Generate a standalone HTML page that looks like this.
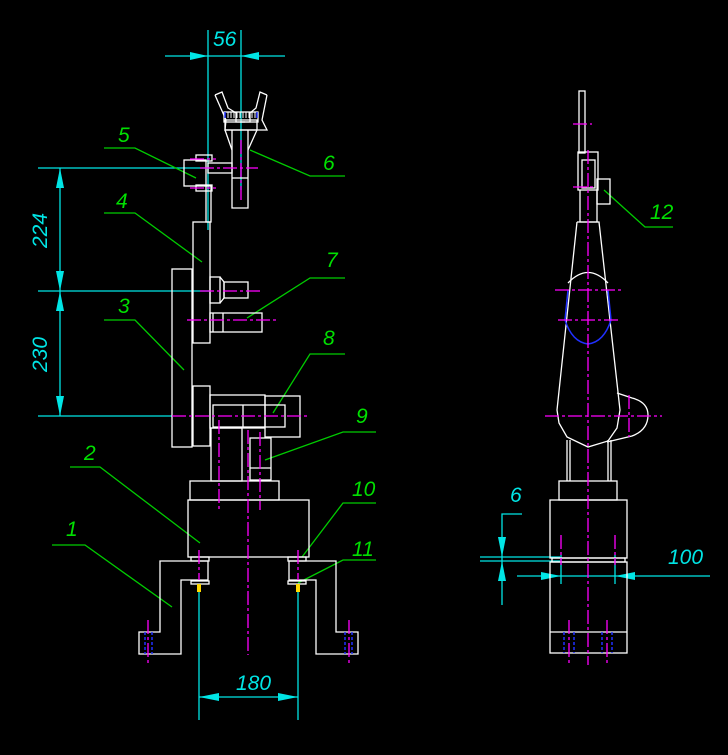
<!DOCTYPE html>
<html><head><meta charset="utf-8"><style>
html,body{margin:0;padding:0;background:#000;}
svg{display:block}
text{font-family:"Liberation Sans",sans-serif;font-style:italic;font-size:21px}
</style></head><body>
<svg width="728" height="755" viewBox="0 0 728 755" xmlns="http://www.w3.org/2000/svg">
<rect width="728" height="755" fill="#000"/>
<!-- cyan dimensions -->
<g stroke="#00e5e5" stroke-width="1.3" fill="none">
<line x1="165" y1="56" x2="285" y2="56"/>
<line x1="208" y1="30" x2="208" y2="230"/>
<line x1="241" y1="30" x2="241" y2="190"/>
<line x1="38" y1="168" x2="210" y2="168"/>
<line x1="38" y1="291" x2="210" y2="291"/>
<line x1="38" y1="416" x2="172" y2="416"/>
<line x1="60" y1="168" x2="60" y2="416"/>
<line x1="199" y1="592" x2="199" y2="720"/>
<line x1="298" y1="592" x2="298" y2="720"/>
<line x1="199" y1="697" x2="298" y2="697"/>
<line x1="480" y1="557" x2="560" y2="557"/>
<line x1="480" y1="561" x2="560" y2="561"/>
<polyline points="522,514 502,514 502,605"/>
<line x1="517" y1="576" x2="710" y2="576"/>
<line x1="561" y1="555" x2="561" y2="584"/>
<line x1="615" y1="555" x2="615" y2="584"/>
</g>
<g fill="#00e5e5">
<polygon points="208,56 190,52 190,60"/><polygon points="241,56 259,52 259,60"/>
<polygon points="60,168 56,188 64,188"/><polygon points="60,291 56,271 64,271"/>
<polygon points="60,291 56,311 64,311"/><polygon points="60,416 56,396 64,396"/>
<polygon points="199,697 219,693 219,701"/><polygon points="298,697 278,693 278,701"/>
<polygon points="502,557 498,537 506,537"/><polygon points="502,561 498,581 506,581"/>
<polygon points="561,576 541,572 541,580"/><polygon points="615,576 635,572 635,580"/>
<text x="213" y="46">56</text>
<text x="236" y="690">180</text>
<text x="47" y="248" transform="rotate(-90 47 248)">224</text>
<text x="47" y="372" transform="rotate(-90 47 372)">230</text>
<text x="510" y="502">6</text>
<text x="668" y="564">100</text>
</g>
<!-- green leaders -->
<g stroke="#00cc00" stroke-width="1.3" fill="none">
<polyline points="104,148 135,148 196,178"/>
<polyline points="250,150 310,176 345,176"/>
<polyline points="104,213 135,213 202,262"/>
<polyline points="247,318 310,278 345,278"/>
<polyline points="104,320 135,320 184,370"/>
<polyline points="273,413 310,354 345,354"/>
<polyline points="265,460 343,432 376,432"/>
<polyline points="70,467 100,467 200,543"/>
<polyline points="302,557 343,503 376,503"/>
<polyline points="52,545 85,545 172,607"/>
<polyline points="298,583 343,560 376,560"/>
<polyline points="604,190 645,227 673,227"/>
</g>
<g fill="#00e000">
<text x="118" y="142">5</text><text x="323" y="170">6</text>
<text x="116" y="208">4</text><text x="326" y="267">7</text>
<text x="118" y="313">3</text><text x="323" y="345">8</text>
<text x="356" y="423">9</text><text x="84" y="460">2</text>
<text x="352" y="496">10</text><text x="66" y="536">1</text>
<text x="352" y="556">11</text><text x="650" y="219">12</text>
</g>
<!-- white geometry left -->
<g stroke="#fff" stroke-width="1.3" fill="none">
<polyline points="215,95 222,92 228,108 236,113 236,122 245,122"/>
<polyline points="267,95 260,92 256,108 250,113 250,122 240,122"/>
<rect x="224" y="112" width="34" height="10"/>
<path d="M228,112v6M231,112v6M234,112v6M237,112v6M240,112v6M243,112v6M246,112v6M249,112v6M252,112v6M255,112v6" stroke-width="1"/>
<polyline points="215,95 226,120 225,130 267,130 262,120 267,95"/>
<rect x="225" y="120" width="32" height="10"/>
<polyline points="232,130 232,208 248,208 248,130"/>
<polyline points="225,130 232,150"/><polyline points="257,130 248,150"/>
<line x1="232" y1="178" x2="248" y2="178"/>
<rect x="184" y="160" width="22" height="26"/>
<rect x="196" y="155" width="16" height="6"/><rect x="196" y="185" width="16" height="6"/>
<rect x="208" y="163" width="24" height="10"/>
<rect x="206" y="186" width="5" height="36"/>
<rect x="193" y="222" width="17" height="121"/>
<rect x="172" y="269" width="20" height="178"/>
<rect x="210" y="277" width="10" height="26"/>
<polyline points="220,277 224,282 224,298 220,303"/>
<rect x="224" y="282" width="24" height="16"/>
<rect x="210" y="313" width="52" height="19"/>
<line x1="213" y1="313" x2="213" y2="332"/><line x1="223" y1="313" x2="223" y2="332"/>
<rect x="193" y="386" width="17" height="60"/>
<rect x="210" y="395" width="55" height="33"/>
<rect x="213" y="405" width="72" height="22"/>
<rect x="265" y="396" width="35" height="41"/>
<line x1="243" y1="405" x2="243" y2="427"/>
<rect x="211" y="428" width="31" height="53"/>
<rect x="250" y="438" width="21" height="42"/>
<line x1="250" y1="468" x2="271" y2="468"/>
<rect x="190" y="481" width="89" height="19"/>
<rect x="188" y="500" width="121" height="57"/>
<rect x="191" y="557" width="18" height="4"/><rect x="288" y="557" width="18" height="4"/>
<rect x="191" y="581" width="18" height="3"/><rect x="288" y="581" width="18" height="3"/>
<polyline points="208,561 160,561 160,632 139,632 139,654 181,654 181,580 208,580 208,561"/>
<polyline points="289,561 336,561 336,632 358,632 358,654 316,654 316,580 289,580 289,561"/>
</g>
<!-- white geometry right -->
<g stroke="#fff" stroke-width="1.3" fill="none">
<rect x="579" y="91" width="6" height="62"/>
<rect x="578" y="152" width="20" height="38"/>
<rect x="582" y="160" width="13" height="28"/>
<rect x="597" y="179" width="13" height="25"/>
<polyline points="580,190 580,222 597,222 597,190"/>
<polyline points="577,222 557,410 559,423 567,437 588,447 608,441 617,428 620,410 599,222 577,222"/>
<path d="M568,283 Q588,262 608,283"/>
<path d="M617,393 L632,398 Q648,402 648,415 Q648,430 632,436 L607,442"/>
<line x1="567" y1="440" x2="567" y2="481"/><line x1="570" y1="440" x2="570" y2="481"/>
<line x1="608" y1="440" x2="608" y2="481"/><line x1="611" y1="440" x2="611" y2="481"/>
<rect x="559" y="481" width="58" height="19"/>
<rect x="550" y="500" width="77" height="58"/>
<rect x="552" y="558" width="73" height="4"/>
<rect x="550" y="562" width="77" height="91"/>
<line x1="550" y1="632" x2="627" y2="632"/>
</g>
<!-- blue -->
<g stroke="#2030ff" stroke-width="1.5" fill="none">
<path d="M568,290 L565,320 Q572,342 588,344 Q604,342 611,320 L608,290"/>
<line x1="145" y1="632" x2="145" y2="654" stroke-dasharray="3,2"/>
<line x1="152" y1="632" x2="152" y2="654" stroke-dasharray="3,2"/>
<line x1="345" y1="632" x2="345" y2="654" stroke-dasharray="3,2"/>
<line x1="352" y1="632" x2="352" y2="654" stroke-dasharray="3,2"/>
<line x1="564" y1="632" x2="564" y2="653" stroke-dasharray="3,2"/>
<line x1="574" y1="632" x2="574" y2="653" stroke-dasharray="3,2"/>
<line x1="602" y1="632" x2="602" y2="653" stroke-dasharray="3,2"/>
<line x1="612" y1="632" x2="612" y2="653" stroke-dasharray="3,2"/>
<line x1="225" y1="112" x2="225" y2="118"/><line x1="257" y1="112" x2="257" y2="118"/>
</g>
<!-- magenta centerlines -->
<g stroke="#ff00ff" stroke-width="1.3" fill="none" stroke-dasharray="14,3,3,3">
<line x1="241" y1="140" x2="241" y2="200"/>
<line x1="200" y1="168" x2="258" y2="168"/>
<line x1="190" y1="159" x2="216" y2="159"/><line x1="190" y1="188" x2="216" y2="188"/>
<line x1="200" y1="291" x2="260" y2="291"/>
<line x1="187" y1="320" x2="276" y2="320"/>
<line x1="172" y1="416" x2="310" y2="416"/>
<line x1="219" y1="420" x2="219" y2="510"/>
<line x1="260" y1="432" x2="260" y2="510"/>
<line x1="248" y1="430" x2="248" y2="655"/>
<line x1="199" y1="550" x2="199" y2="580"/><line x1="298" y1="550" x2="298" y2="580"/>
<line x1="148" y1="620" x2="148" y2="665"/><line x1="349" y1="620" x2="349" y2="665"/>
<line x1="588" y1="150" x2="588" y2="665"/>
<line x1="555" y1="290" x2="622" y2="290"/>
<line x1="558" y1="320" x2="618" y2="320"/>
<line x1="545" y1="416" x2="662" y2="416"/>
<line x1="629" y1="395" x2="629" y2="437"/>
<line x1="561" y1="535" x2="561" y2="565"/><line x1="615" y1="535" x2="615" y2="565"/>
<line x1="569" y1="620" x2="569" y2="665"/><line x1="607" y1="620" x2="607" y2="665"/>
<line x1="573" y1="124" x2="592" y2="124"/><line x1="573" y1="187" x2="595" y2="187"/>
</g>
<g fill="#ffd800">
<rect x="197" y="584" width="4" height="8"/><rect x="296" y="584" width="4" height="8"/>
</g>
</svg>
</body></html>
